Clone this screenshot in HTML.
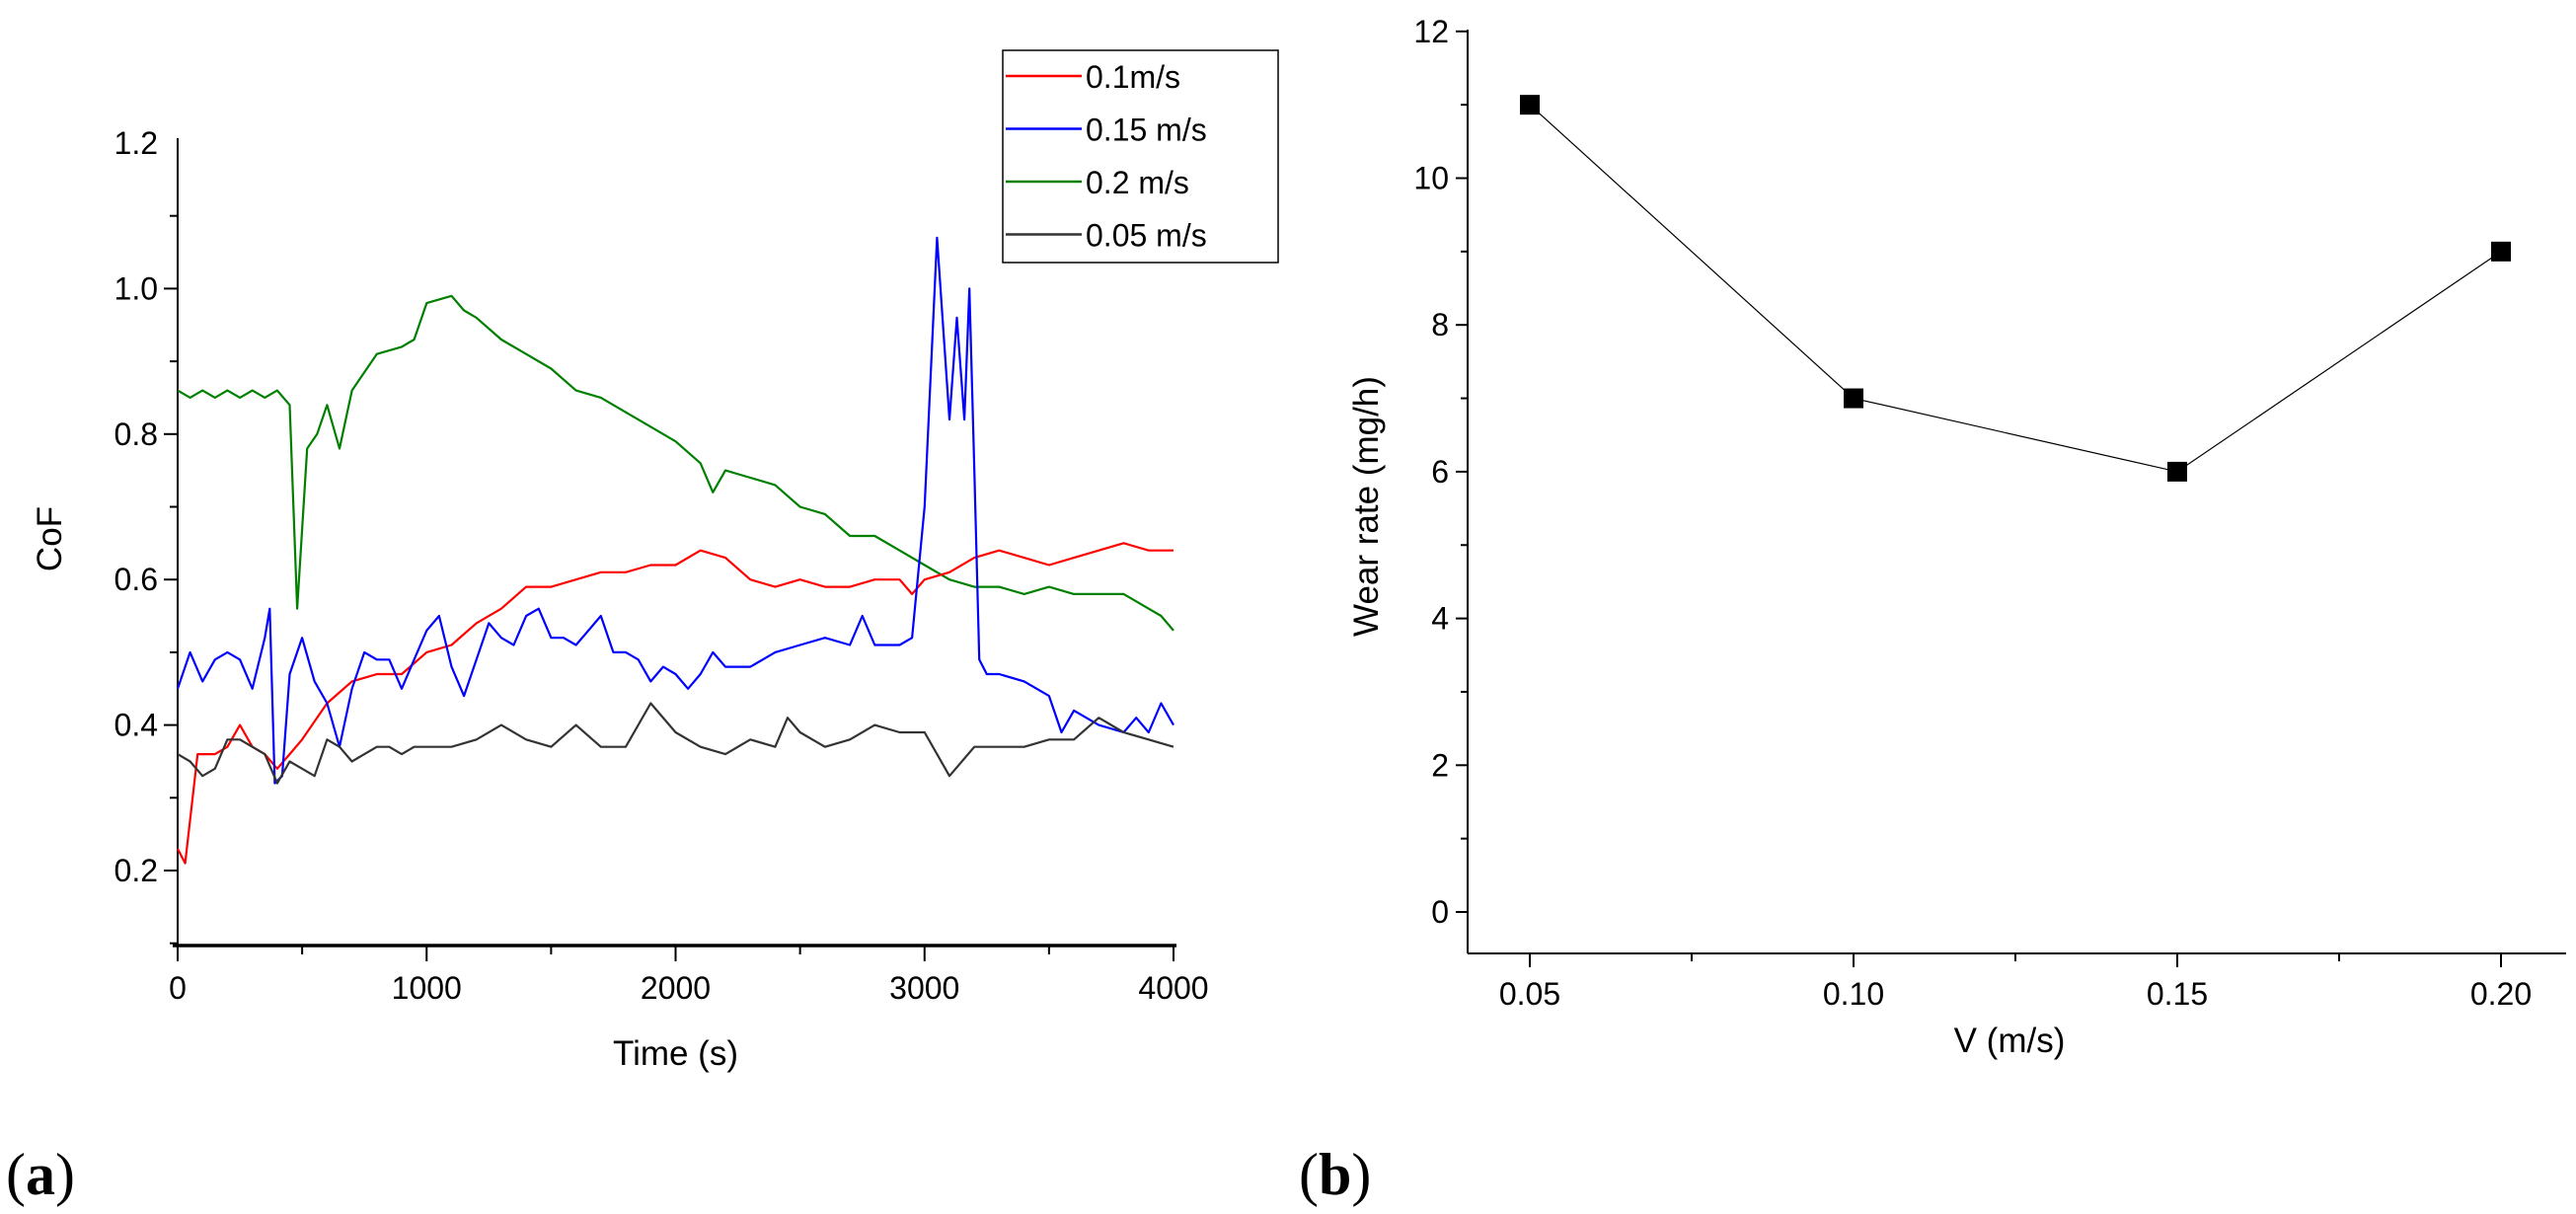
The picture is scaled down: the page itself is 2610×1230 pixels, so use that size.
<!DOCTYPE html>
<html><head><meta charset="utf-8"><style>
html,body{margin:0;padding:0;background:#fff}
svg{display:block}
.tk{font-family:"Liberation Sans Narrow","Liberation Sans",sans-serif;font-size:32px;fill:#000}
.ttl{font-family:"Liberation Sans",sans-serif;font-size:35px;fill:#000}
.lab{font-family:"Liberation Serif",serif;font-size:60px;fill:#000}
</style></head><body>
<svg id="fig" width="2610" height="1230" viewBox="0 0 2610 1230" xmlns="http://www.w3.org/2000/svg">
<g id="left"></g>
<g id="right"></g>
<text class="lab" x="6" y="1210">(<tspan font-weight="bold">a</tspan>)</text>
<text class="lab" x="1316" y="1210">(<tspan font-weight="bold">b</tspan>)</text>
</svg>
<script>
const redT=[0,30,80,150,200,250,300,350,400,450,500,600,700,800,900,1000,1100,1200,1300,1400,1500,1600,1700,1800,1900,2000,2100,2200,2300,2400,2500,2600,2700,2800,2900,2950,3000,3100,3200,3300,3400,3500,3600,3700,3800,3900,4000];
const redV=[0.23,0.21,0.36,0.36,0.37,0.40,0.37,0.36,0.34,0.36,0.38,0.43,0.46,0.47,0.47,0.50,0.51,0.54,0.56,0.59,0.59,0.60,0.61,0.61,0.62,0.62,0.64,0.63,0.60,0.59,0.60,0.59,0.59,0.60,0.60,0.58,0.60,0.61,0.63,0.64,0.63,0.62,0.63,0.64,0.65,0.64,0.64];
const blueT=[0,50,100,150,200,250,300,350,370,390,420,450,500,550,600,650,700,750,800,850,900,950,1000,1050,1100,1150,1200,1250,1300,1350,1400,1450,1500,1550,1600,1650,1700,1750,1800,1850,1900,1950,2000,2050,2100,2150,2200,2300,2400,2500,2600,2700,2750,2800,2900,2950,3000,3050,3100,3130,3160,3180,3200,3220,3250,3300,3400,3500,3550,3600,3700,3800,3850,3900,3950,4000];
const blueV=[0.45,0.50,0.46,0.49,0.50,0.49,0.45,0.52,0.56,0.32,0.33,0.47,0.52,0.46,0.43,0.37,0.45,0.50,0.49,0.49,0.45,0.49,0.53,0.55,0.48,0.44,0.49,0.54,0.52,0.51,0.55,0.56,0.52,0.52,0.51,0.53,0.55,0.50,0.50,0.49,0.46,0.48,0.47,0.45,0.47,0.50,0.48,0.48,0.50,0.51,0.52,0.51,0.55,0.51,0.51,0.52,0.70,1.07,0.82,0.96,0.82,1.00,0.75,0.49,0.47,0.47,0.46,0.44,0.39,0.42,0.40,0.39,0.41,0.39,0.43,0.40];
const greenT=[0,50,100,150,200,250,300,350,400,450,480,520,560,600,650,700,800,900,950,1000,1100,1150,1200,1300,1400,1500,1600,1700,1800,1900,2000,2100,2150,2200,2300,2400,2500,2600,2700,2800,2900,3000,3100,3200,3300,3400,3500,3600,3700,3800,3900,3950,4000];
const greenV=[0.86,0.85,0.86,0.85,0.86,0.85,0.86,0.85,0.86,0.84,0.56,0.78,0.80,0.84,0.78,0.86,0.91,0.92,0.93,0.98,0.99,0.97,0.96,0.93,0.91,0.89,0.86,0.85,0.83,0.81,0.79,0.76,0.72,0.75,0.74,0.73,0.70,0.69,0.66,0.66,0.64,0.62,0.60,0.59,0.59,0.58,0.59,0.58,0.58,0.58,0.56,0.55,0.53];
const blackT=[0,50,100,150,200,250,300,350,400,450,500,550,600,650,700,750,800,850,900,950,1000,1100,1200,1300,1400,1500,1600,1700,1800,1900,2000,2100,2200,2300,2400,2450,2500,2600,2700,2800,2900,3000,3100,3200,3300,3400,3500,3600,3700,3800,3900,4000];
const blackV=[0.36,0.35,0.33,0.34,0.38,0.38,0.37,0.36,0.32,0.35,0.34,0.33,0.38,0.37,0.35,0.36,0.37,0.37,0.36,0.37,0.37,0.37,0.38,0.40,0.38,0.37,0.40,0.37,0.37,0.43,0.39,0.37,0.36,0.38,0.37,0.41,0.39,0.37,0.38,0.40,0.39,0.39,0.33,0.37,0.37,0.37,0.38,0.38,0.41,0.39,0.38,0.37];
const xTicksL=[0,1000,2000,3000,4000];
const yTicksL=["0.2","0.4","0.6","0.8","1.0","1.2"];
const legendLabels=["0.1m/s","0.15 m/s","0.2 m/s","0.05 m/s"];
const vCats=[0.05,0.10,0.15,0.20];
const wearV=[11,7,6,9];
const xTicksR=["0.05","0.10","0.15","0.20"];
const yTicksR=[0,2,4,6,8,10,12];

const NS="http://www.w3.org/2000/svg";
function mk(tag,attrs,parent,text){const e=document.createElementNS(NS,tag);for(const k in attrs)e.setAttribute(k,attrs[k]);if(text!==undefined)e.textContent=text;parent.appendChild(e);return e;}

const L=document.getElementById('left');
const lx=t=>180+(t/4000)*1009;
const ly=v=>145+(1.2-v)/0.2*147.4;
let e;
e=mk('line',{x1:180,y1:140,x2:180,y2:958,stroke:'#000','stroke-width':2},L);

e=mk('line',{x1:175,y1:958,x2:1192,y2:958,stroke:'#000','stroke-width':3.5},L);

for(let t=0;t<=4000;t+=500){const maj=t%1000===0;e=mk('line',{x1:lx(t),y1:958,x2:lx(t),y2:958+(maj?16:9),stroke:'#000','stroke-width':2},L);
}
xTicksL.forEach(t=>{e=mk('text',{class:'tk',x:lx(t),y:1012,'text-anchor':'middle'},L,String(t));
});
for(let i=1;i<=11;i++){const v=i/10;const maj=i%2===0;e=mk('line',{x1:180-(maj?14:8),y1:ly(v),x2:180,y2:ly(v),stroke:'#000','stroke-width':2},L);
}
yTicksL.forEach(s=>{e=mk('text',{class:'tk',x:160,y:ly(parseFloat(s))+11,'text-anchor':'end'},L,s);
});
e=mk('text',{class:'ttl',x:lx(2000),y:1079,'text-anchor':'middle'},L,'Time (s)');

e=mk('text',{class:'ttl',x:0,y:0,'text-anchor':'middle',transform:'translate(62,546) rotate(-90)'},L,'CoF');

const series=[[greenT,greenV,'#008000','series-0-2'],[redT,redV,'#ff0000','series-0-1'],[blueT,blueV,'#0000ff','series-0-15'],[blackT,blackV,'#333333','series-0-05']];
series.forEach(s=>{const d=s[0].map((t,i)=>(i?'L':'M')+lx(t).toFixed(1)+' '+ly(s[1][i]).toFixed(1)).join(' ');
e=mk('path',{d:d,fill:'none',stroke:s[2],'stroke-width':2.2,'stroke-linejoin':'round'},L);
});
const lg=mk('g',{},L);

mk('rect',{x:1016,y:51,width:279,height:215,fill:'#fff',stroke:'#000','stroke-width':1.5},lg);
const lcol=['#ff0000','#0000ff','#008000','#333333'];
legendLabels.forEach((s,i)=>{const y=77+i*53.5;
e=mk('line',{x1:1019,y1:y,x2:1096,y2:y,stroke:lcol[i],'stroke-width':2.5},lg);

e=mk('text',{class:'tk',x:1100,y:y+12,'font-size':'34px'},lg,s);
});

const R=document.getElementById('right');
const rx=v=>1550+(v-0.05)/0.05*328;
const ry=v=>924-v/2*148.7;
e=mk('line',{x1:1487,y1:30,x2:1487,y2:966,stroke:'#000','stroke-width':2},R);

e=mk('line',{x1:1487,y1:966,x2:2600,y2:966,stroke:'#000','stroke-width':2},R);

for(let v=0;v<=12;v++){const maj=v%2===0;e=mk('line',{x1:1487-(maj?12:7),y1:ry(v),x2:1487,y2:ry(v),stroke:'#000','stroke-width':2},R);
}
yTicksR.forEach(v=>{e=mk('text',{class:'tk',x:1468,y:ry(v)+11,'text-anchor':'end'},R,String(v));
});
for(let k=0;k<7;k++){const v=0.05+k*0.025;const maj=k%2===0;e=mk('line',{x1:rx(v),y1:966,x2:rx(v),y2:966+(maj?14:8),stroke:'#000','stroke-width':2},R);
}
xTicksR.forEach(s=>{e=mk('text',{class:'tk',x:rx(parseFloat(s)),y:1018,'text-anchor':'middle'},R,s);
});
e=mk('text',{class:'ttl',x:2036,y:1066,'text-anchor':'middle','font-size':'38px'},R,'V (m/s)');

e=mk('text',{class:'ttl',x:0,y:0,'text-anchor':'middle','font-size':'38px',transform:'translate(1396,513) rotate(-90)'},R,'Wear rate (mg/h)');

e=mk('path',{d:vCats.map((v,i)=>(i?'L':'M')+rx(v)+' '+ry(wearV[i])).join(' '),fill:'none',stroke:'#000','stroke-width':1.2},R);

vCats.forEach((v,i)=>{e=mk('rect',{x:rx(v)-10,y:ry(wearV[i])-10,width:20,height:20,fill:'#000'},R);
});
</script>
</body></html>
